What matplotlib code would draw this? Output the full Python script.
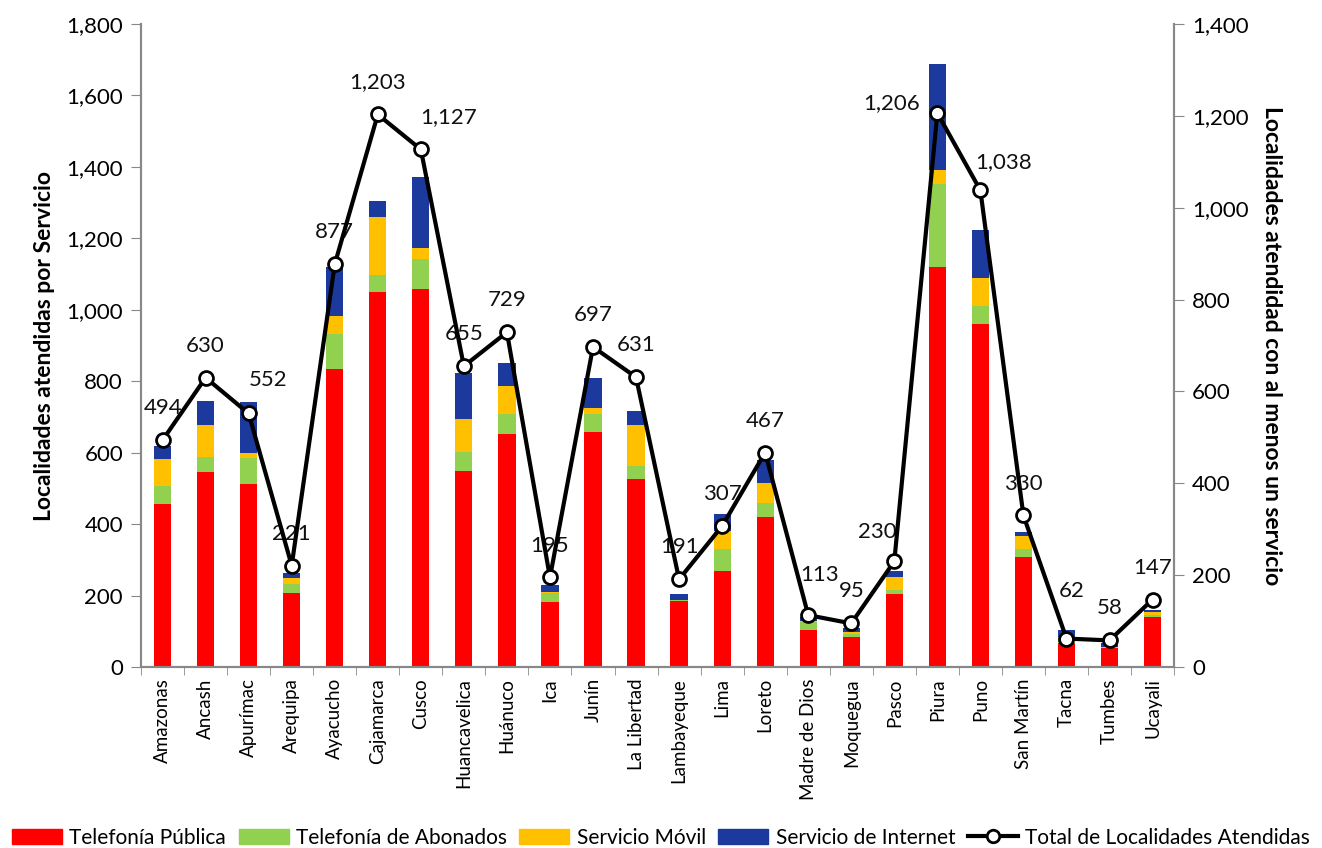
import numpy as np
import matplotlib
matplotlib.use("Agg")
import matplotlib.pyplot as plt
from matplotlib.ticker import FuncFormatter, MultipleLocator, FixedLocator
from matplotlib.lines import Line2D
from matplotlib.patches import Patch

plt.rcParams["font.family"] = ["Lato", "DejaVu Sans"]

# ================= DATA =================
regiones = ["Amazonas", "Ancash", "Apurímac", "Arequipa", "Ayacucho", "Cajamarca",
            "Cusco", "Huancavelica", "Huánuco", "Ica", "Junín", "La Libertad",
            "Lambayeque", "Lima", "Loreto", "Madre de Dios", "Moquegua", "Pasco",
            "Piura", "Puno", "San Martín", "Tacna", "Tumbes", "Ucayali"]

tel_publica = [457, 547, 513, 206, 834, 1050, 1058, 549, 652, 183, 659, 526,
               186, 269, 421, 104, 85, 205, 1121, 960, 309, 68, 53, 141]
tel_abonados = [50, 40, 73, 26, 98, 48, 85, 54, 57, 23, 48, 36,
                1, 61, 38, 23, 7, 11, 230, 51, 21, 7, 1, 6]
serv_movil = [75, 90, 14, 17, 50, 162, 30, 90, 78, 3, 19, 115,
              2, 51, 57, 1, 7, 35, 41, 78, 37, 10, 1, 6]
serv_internet = [37, 68, 141, 14, 137, 44, 199, 130, 64, 22, 84, 40,
                 15, 47, 64, 13, 11, 19, 296, 135, 10, 19, 11, 7]
total_localidades = [494, 630, 552, 221, 877, 1203, 1127, 655, 729, 195, 697, 631,
                     191, 307, 467, 113, 95, 230, 1206, 1038, 330, 62, 58, 147]

# label nudges (points) where the label is not straight above the marker
label_offsets = {"Apurímac": (14, 24), "Cusco": (20, 23), "Pasco": (-12, 21),
                 "Piura": (-33, 7), "Puno": (17, 20), "Madre de Dios": (8, 29),
                 "Tacna": (4, 34)}

# ================= PLOT =================
colors = ["#FF0000", "#92D050", "#FFC000", "#1C3A9E"]
series = [tel_publica, tel_abonados, serv_movil, serv_internet]
names = ["Telefonía Pública", "Telefonía de Abonados", "Servicio Móvil", "Servicio de Internet"]

fig = plt.figure(figsize=(13.22, 8.48), dpi=100)
ax = fig.add_axes([0.1067, 0.2134, 0.7814, 0.7583])
ax2 = ax.twinx()

x = np.arange(len(regiones))
bottom = np.zeros(len(regiones))
for vals, c in zip(series, colors):
    ax.bar(x, vals, width=0.4, bottom=bottom, color=c, edgecolor="none", zorder=2)
    bottom += np.array(vals)

ax2.plot(x, total_localidades, color="black", lw=3, marker="o", ms=10,
         mfc="white", mec="black", mew=2, zorder=5)

for i, v in enumerate(total_localidades):
    dx, dy = label_offsets.get(regiones[i], (0, 23))
    ax2.annotate(f"{v:,}", (x[i], v), xytext=(dx, dy), textcoords="offset points",
                 ha="center", va="center", fontsize=16, color="#111111")

ax.set_xlim(-0.5, len(regiones) - 0.5)
ax.set_ylim(0, 1800)
ax2.set_ylim(0, 1400)
ax.yaxis.set_major_locator(MultipleLocator(200))
ax2.yaxis.set_major_locator(MultipleLocator(200))
fmt = FuncFormatter(lambda v, p: f"{int(v):,}")
ax.yaxis.set_major_formatter(fmt)
ax2.yaxis.set_major_formatter(fmt)

ax.set_xticks(x)
ax.set_xticklabels(regiones, rotation=90, fontsize=13.5)
ax.tick_params(axis="x", length=0, pad=8)
ax.xaxis.set_minor_locator(FixedLocator(np.arange(-0.5, len(regiones), 1)))
ax.tick_params(axis="x", which="minor", length=6, color="#888888", direction="out")
ax.tick_params(axis="y", labelsize=16, length=7, color="#888888", pad=6)
ax2.tick_params(axis="y", labelsize=16, length=7, color="#888888", pad=6)

for a in (ax, ax2):
    a.spines["top"].set_visible(False)
    for s in ("left", "right", "bottom"):
        a.spines[s].set_color("#888888")
        a.spines[s].set_linewidth(1.5)

ax.set_ylabel("Localidades atendidas por Servicio", fontsize=16.5, fontweight="bold", labelpad=8)
ax2.set_ylabel("Localidades atendidad con al menos un servicio", fontsize=16.5,
               fontweight="bold", rotation=-90, labelpad=24)

handles = [Patch(color=c) for c in colors]
handles.append(Line2D([0], [0], color="black", lw=3, marker="o", ms=9,
                      mfc="white", mec="black", mew=2))
fig.legend(handles, names + ["Total de Localidades Atendidas"], loc="center",
           bbox_to_anchor=(0.5, 0.012), ncol=5, frameon=False, fontsize=15,
           handlelength=2.4, handleheight=0.75, handletextpad=0.35, columnspacing=0.6,
           borderpad=0.1, borderaxespad=0.1)

fig.savefig("out.png", dpi=100)
